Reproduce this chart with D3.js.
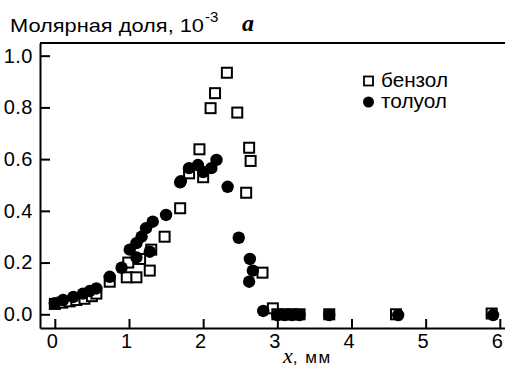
<!DOCTYPE html>
<html><head><meta charset="utf-8">
<script src="https://cdn.jsdelivr.net/npm/d3@7"></script>
<style>html,body{margin:0;padding:0;background:#fff;}svg{display:block;}</style>
</head><body>
<svg id="chart" width="505" height="367"></svg>
<script>
const xTicks = [0, 1, 2, 3, 4, 5, 6];
const yTicks = [0.0, 0.2, 0.4, 0.6, 0.8, 1.0];
const yTickLabels = ["0.0", "0.2", "0.4", "0.6", "0.8", "1.0"];

const benzeneX = [0, 0.1, 0.2, 0.29, 0.4, 0.5, 0.56, 0.74, 0.97, 0.99, 1.1, 1.15, 1.28, 1.30, 1.48, 1.69, 1.81, 1.95, 2.0, 2.1, 2.16, 2.32, 2.46, 2.58, 2.62, 2.64, 2.8, 2.94, 3.0, 3.1, 3.2, 3.3, 3.7, 4.6, 5.89];
const benzeneY = [0.04, 0.045, 0.05, 0.055, 0.06, 0.07, 0.08, 0.126, 0.143, 0.2, 0.143, 0.214, 0.169, 0.25, 0.30, 0.41, 0.545, 0.638, 0.53, 0.797, 0.855, 0.934, 0.78, 0.47, 0.644, 0.593, 0.161, 0.023, 0.0, 0.0, 0.0, 0.0, 0.0, 0.0, 0.003];

const tolueneX = [0, 0.11, 0.25, 0.38, 0.47, 0.56, 0.74, 0.9, 1.01, 1.1, 1.1, 1.17, 1.23, 1.28, 1.32, 1.5, 1.69, 1.70, 1.81, 1.93, 2.0, 2.11, 2.18, 2.33, 2.48, 2.62, 2.63, 2.67, 2.81, 3.0, 3.1, 3.2, 3.3, 3.7, 4.63, 5.91];
const tolueneY = [0.043, 0.055, 0.067, 0.08, 0.09, 0.10, 0.145, 0.18, 0.25, 0.22, 0.275, 0.30, 0.333, 0.242, 0.358, 0.384, 0.51, 0.515, 0.565, 0.577, 0.55, 0.565, 0.597, 0.493, 0.296, 0.126, 0.214, 0.169, 0.013, -0.003, -0.003, -0.003, -0.003, -0.003, -0.003, -0.003];

const seriesNames = ["бензол", "толуол"];

const svg = d3.select("#chart");
const FONT = "'Liberation Sans', Arial, sans-serif";
const SERIF = "'Liberation Serif', 'Times New Roman', serif";
const mLeft = 40, mRight = 505, mTop = 43, mBottom = 328;

const x = d3.scaleLinear().domain([-0.2, 6.07]).range([mLeft, mRight]);
const y = d3.scaleLinear().domain([-0.053, 1.049]).range([mBottom, mTop]);

// frame top line
svg.append("line").attr("x1", mLeft).attr("x2", mRight).attr("y1", mTop).attr("y2", mTop)
  .attr("stroke", "#000").attr("stroke-width", 2);

// axes
const yAxis = d3.axisLeft(y).tickValues(yTicks).tickFormat((d, i) => yTickLabels[i])
  .tickSizeInner(-10).tickSizeOuter(0).tickPadding(7);
const gy = svg.append("g").attr("transform", `translate(${mLeft},0)`).call(yAxis);
gy.select(".domain").attr("stroke-width", 2);
gy.selectAll(".tick line").attr("stroke-width", 2);
gy.selectAll("text").attr("font-family", FONT).attr("font-size", 20).attr("fill", "#000")
  .attr("letter-spacing", 0.5);

const xAxis = d3.axisBottom(x).tickValues(xTicks).tickFormat(d3.format("d"))
  .tickSizeInner(-9).tickSizeOuter(0).tickPadding(6);
const gx = svg.append("g").attr("transform", `translate(0,${mBottom})`).call(xAxis);
gx.select(".domain").attr("stroke-width", 2);
gx.selectAll(".tick line").attr("stroke-width", 2);
gx.selectAll("text").attr("font-family", FONT).attr("font-size", 20).attr("fill", "#000")
  .attr("dx", -3);

// data
const benzene = benzeneX.map((v, i) => ({x: v, y: benzeneY[i]}));
const toluene = tolueneX.map((v, i) => ({x: v, y: tolueneY[i]}));
const sq = 10;
svg.append("g").selectAll("rect").data(benzene).join("rect")
  .attr("x", d => x(d.x) - sq / 2).attr("y", d => y(d.y) - sq / 2)
  .attr("width", sq).attr("height", sq)
  .attr("fill", "#fff").attr("stroke", "#000").attr("stroke-width", 2);
svg.append("g").selectAll("circle").data(toluene).join("circle")
  .attr("cx", d => x(d.x)).attr("cy", d => y(d.y)).attr("r", 6.2)
  .attr("fill", "#000");

// legend
const lg = svg.append("g");
lg.append("rect").attr("x", 364).attr("y", 76.5).attr("width", 9).attr("height", 9)
  .attr("fill", "#fff").attr("stroke", "#000").attr("stroke-width", 1.8);
lg.append("text").attr("x", 381).attr("y", 87).text(seriesNames[0])
  .attr("font-family", FONT).attr("font-size", 20).attr("textLength", 67).attr("lengthAdjust", "spacingAndGlyphs");
lg.append("circle").attr("cx", 368.5).attr("cy", 102).attr("r", 5.5).attr("fill", "#000");
lg.append("text").attr("x", 381).attr("y", 108).text(seriesNames[1])
  .attr("font-family", FONT).attr("font-size", 20).attr("textLength", 66).attr("lengthAdjust", "spacingAndGlyphs");

// title
const t = svg.append("text").attr("x", 10).attr("y", 32)
  .attr("font-family", FONT).attr("font-size", 19);
t.append("tspan").text("Молярная доля, 10").attr("textLength", 194).attr("lengthAdjust", "spacingAndGlyphs");
t.append("tspan").attr("dy", -10).attr("dx", 1).attr("font-size", 15).text("-3");
svg.append("text").attr("x", 242).attr("y", 31).text("a")
  .attr("font-family", SERIF)
  .attr("font-style", "italic").attr("font-weight", "bold").attr("font-size", 24);

// x label
const xl = svg.append("text").attr("x", 283).attr("y", 363);
xl.append("tspan").text("x").attr("font-family", SERIF)
  .attr("font-style", "italic").attr("font-size", 22);
xl.append("tspan").text(", мм").attr("font-family", FONT).attr("font-size", 17).attr("letter-spacing", 1.5);
</script>
</body></html>
